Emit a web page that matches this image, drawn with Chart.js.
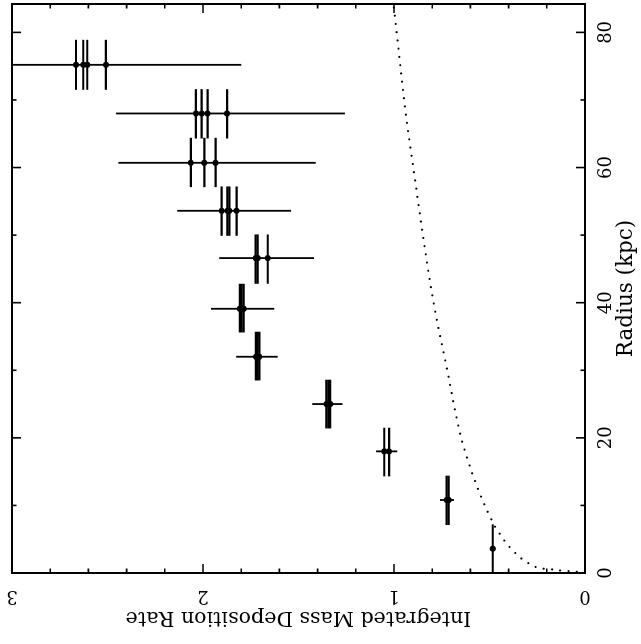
<!DOCTYPE html>
<html>
<head>
<meta charset="utf-8">
<script src="https://cdn.jsdelivr.net/npm/chart.js@4.4.0/dist/chart.umd.min.js"></script>
<style>
  html, body { margin: 0; padding: 0; background: #fff; overflow: hidden; }
  /* the plot is laid out radius-along-x, then turned a quarter turn counter-clockwise */
  #frame {
    position: absolute; left: 0; top: 0;
    width: 644px; height: 641px;
    transform-origin: 0 0;
    transform: translate(0, 644px) rotate(-90deg);
  }
  canvas { display: block; }
</style>
</head>
<body>
<div id="frame"><canvas id="chart" width="644" height="641"></canvas></div>
<script>
// Radial bins (kpc): centre and extent of each annulus
const radiusCenter = [3.6, 10.8, 18.0, 25.0, 32.0, 39.1, 46.6, 53.6, 60.7, 68.0, 75.2];
const radiusLow    = [0.0, 7.1, 14.3, 21.4, 28.5, 35.6, 42.8, 49.9, 57.1, 64.3, 71.5];
const radiusHigh   = [7.2, 14.4, 21.5, 28.6, 35.7, 42.8, 50.1, 57.2, 64.4, 71.6, 78.9];

// Integrated mass deposition rate estimates inside each bin
const rateEstimates = [
  [0.483],
  [0.714, 0.724],
  [1.026, 1.051],
  [1.334, 1.344, 1.354],
  [1.705, 1.714, 1.723],
  [1.787, 1.797, 1.807],
  [1.661, 1.714, 1.724],
  [1.824, 1.862, 1.872, 1.902],
  [1.934, 1.993, 2.064],
  [1.874, 1.976, 2.007, 2.037],
  [2.508, 2.606, 2.627, 2.665]
];

// Uncertainty range of the rate in each bin
const rateLow  = [0.468, 0.686, 0.983, 1.269, 1.609, 1.627, 1.419, 1.539, 1.410, 1.257, 1.800];
const rateHigh = [0.498, 0.759, 1.094, 1.428, 1.826, 1.958, 1.915, 2.135, 2.443, 2.455, 3.220];

// Model profile (dotted curve)
const curveRadius = [0, 0.19, 0.29, 0.39, 0.54, 0.63, 0.88, 1.47, 2.10, 2.90, 3.78, 4.67, 5.74, 6.67, 7.8, 10.75, 15.7, 20.1, 30.4, 40.2, 60.0, 67.7, 82.3, 84.2];
const curveRate   = [0, 0.044, 0.087, 0.136, 0.175, 0.215, 0.257, 0.297, 0.331, 0.363, 0.393, 0.419, 0.445, 0.467, 0.488, 0.536, 0.602, 0.649, 0.724, 0.794, 0.899, 0.937, 0.995, 1.003];

// Axis ticks
const radiusTickLabels = [0, 20, 40, 60, 80];
const radiusMinorTicks = [10, 30, 50, 70];
const rateTickLabels = [0, 1, 2, 3];
const rateMinorTicks = [0.2, 0.4, 0.6, 0.8, 1.2, 1.4, 1.6, 1.8, 2.2, 2.4, 2.6, 2.8];

const radiusTitle = 'Radius (kpc)';
const rateTitle = 'Integrated Mass Deposition Rate';

const estimatePoints = [];
rateEstimates.forEach((vals, i) => vals.forEach(v => estimatePoints.push({ x: radiusCenter[i], y: v })));
const curvePoints = curveRadius.map((r, i) => ({ x: r, y: curveRate[i] }));

const FONT = '"DejaVu Serif", "Liberation Serif", serif';

// Bin extent and rate uncertainty bars
const errorBars = {
  id: 'errorBars',
  beforeDatasetsDraw(chart) {
    const { ctx, chartArea: a, scales: { x, y } } = chart;
    ctx.save();
    ctx.beginPath();
    ctx.rect(a.left, a.top, a.right - a.left, a.bottom - a.top);
    ctx.clip();
    ctx.strokeStyle = '#000';
    ctx.lineCap = 'butt';
    ctx.lineWidth = 2.2;
    rateEstimates.forEach((vals, i) => vals.forEach(v => {
      const py = y.getPixelForValue(v);
      ctx.beginPath();
      ctx.moveTo(x.getPixelForValue(radiusLow[i]), py);
      ctx.lineTo(x.getPixelForValue(radiusHigh[i]), py);
      ctx.stroke();
    }));
    ctx.lineWidth = 1.8;
    radiusCenter.forEach((r, i) => {
      const px = x.getPixelForValue(r);
      ctx.beginPath();
      ctx.moveTo(px, y.getPixelForValue(rateLow[i]));
      ctx.lineTo(px, y.getPixelForValue(rateHigh[i]));
      ctx.stroke();
    });
    ctx.restore();
  }
};

// Box, inward ticks, tick labels and axis titles
const axesFrame = {
  id: 'axesFrame',
  afterDraw(chart) {
    const { ctx, chartArea: a, scales: { x, y } } = chart;
    ctx.save();
    ctx.strokeStyle = '#000';
    ctx.lineWidth = 2;
    ctx.strokeRect(a.left, a.top, a.right - a.left, a.bottom - a.top);

    ctx.lineWidth = 1.6;
    ctx.beginPath();
    const radiusTick = (v, len) => {
      const px = x.getPixelForValue(v);
      ctx.moveTo(px, a.bottom); ctx.lineTo(px, a.bottom - len);
      ctx.moveTo(px, a.top); ctx.lineTo(px, a.top + len);
    };
    const rateTick = (v, len) => {
      const py = y.getPixelForValue(v);
      ctx.moveTo(a.left, py); ctx.lineTo(a.left + len, py);
      ctx.moveTo(a.right, py); ctx.lineTo(a.right - len, py);
    };
    radiusTickLabels.forEach(v => radiusTick(v, 9));
    radiusMinorTicks.forEach(v => radiusTick(v, 4.5));
    rateTickLabels.forEach(v => rateTick(v, 9));
    rateMinorTicks.forEach(v => rateTick(v, 4.5));
    ctx.stroke();

    ctx.fillStyle = '#000';
    ctx.font = '18px ' + FONT;
    ctx.textAlign = 'center';
    ctx.textBaseline = 'alphabetic';
    radiusTickLabels.forEach(v => ctx.fillText(String(v), x.getPixelForValue(v), a.bottom + 26));
    rateTickLabels.forEach(v => {
      ctx.save();
      ctx.translate(a.left - 18.5, y.getPixelForValue(v));
      ctx.rotate(-Math.PI / 2);
      ctx.fillText(String(v), 0, 0);
      ctx.restore();
    });

    ctx.font = '21.5px ' + FONT;
    ctx.fillText(radiusTitle, (a.left + a.right) / 2, a.bottom + 47);
    ctx.font = '20.6px ' + FONT;
    ctx.save();
    ctx.translate(a.left - 39, (a.top + a.bottom) / 2);
    ctx.rotate(-Math.PI / 2);
    ctx.fillText(rateTitle, 0, 0);
    ctx.restore();
    ctx.restore();
  }
};

new Chart(document.getElementById('chart'), {
  type: 'scatter',
  data: {
    datasets: [
      {
        label: 'Estimates',
        data: estimatePoints,
        backgroundColor: '#000',
        borderColor: '#000',
        pointRadius: 3,
        pointBorderWidth: 0,
        order: 1
      },
      {
        label: 'Model',
        type: 'line',
        data: curvePoints,
        borderColor: '#000',
        borderWidth: 2.2,
        borderDash: [0, 8.3],
        borderCapStyle: 'round',
        pointRadius: 0,
        fill: false,
        cubicInterpolationMode: 'monotone',
        order: 2
      }
    ]
  },
  options: {
    responsive: false,
    animation: false,
    devicePixelRatio: 1,
    layout: { padding: { left: 71, right: 1, top: 12, bottom: 56 } },
    plugins: { legend: { display: false }, tooltip: { enabled: false } },
    scales: {
      x: { type: 'linear', min: 0, max: 84.2, display: false },
      y: { type: 'linear', min: 0, max: 3, display: false }
    }
  },
  plugins: [errorBars, axesFrame]
});
</script>
</body>
</html>
